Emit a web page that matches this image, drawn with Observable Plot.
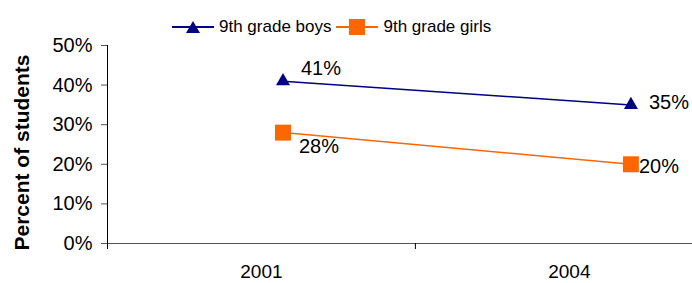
<!DOCTYPE html>
<html>
<head>
<meta charset="utf-8">
<script src="https://cdn.jsdelivr.net/npm/d3@7"></script>
<script src="https://cdn.jsdelivr.net/npm/@observablehq/plot@0.6"></script>
<style>
  html, body { margin: 0; padding: 0; background: #fff; }
  #wrap { position: relative; width: 692px; height: 283px; font-family: "Liberation Sans", Arial, sans-serif; }
  #legend { position: absolute; left: 172px; top: 17px; display: flex; align-items: center; font-size: 17px; color: #000; }
  #legend .item { display: flex; align-items: center; margin-right: 5px; }
  #legend svg { display: block; }
  #legend span { margin-left: 5px; }
</style>
</head>
<body>
<div id="wrap"><div id="legend"></div></div>
<script>
// ---- data ----
const categories = ["2001", "2004"];
const seriesNames = ["9th grade boys", "9th grade girls"];
const boys = [0.41, 0.35];
const girls = [0.28, 0.20];
// position of each year's data point along the category axis (category index units)
const pointX = [0.57, 1.70];
const yTicks = [0, 0.1, 0.2, 0.3, 0.4, 0.5];

// ---- styles ----
const colors = ["#000080", "#FF6600"];
const symbols = ["triangle", "square"];
const font = "Liberation Sans, Arial, sans-serif";

const rows = [];
[boys, girls].forEach((vals, s) => {
  vals.forEach((v, i) => rows.push({series: seriesNames[s], s, i, x: pointX[i], y: v, year: categories[i]}));
});
const catLabels = categories.map((c, i) => ({c, x: i + 0.5}));

// label offsets per (series, index)
const labelOffsets = [[[18, -13], [18, -2]], [[16, 14], [8, 2]]];

const marks = [
  Plot.ruleY([0], {stroke: "#555", strokeWidth: 1}),
  Plot.ruleX([0], {y1: 0, y2: 0.5, stroke: "#000", strokeWidth: 1}),
  Plot.axisY({ticks: yTicks, tickFormat: d3.format(".0%"), tickSize: 6, tickPadding: 9, fontSize: 20, label: null, stroke: "#555"}),
  Plot.axisX({ticks: [0, 1], tickFormat: () => "", tickSize: 6, label: null, stroke: "#000"}),
  Plot.text(catLabels, {x: "x", y: () => 0, text: "c", dy: 28, fontSize: 19, fill: "#000"}),
  Plot.text(["Percent of students"], {frameAnchor: "left", textAnchor: "middle", rotate: -90, dx: -85, dy: 8, fontSize: 21, fontWeight: "bold", fill: "#000"})
];

seriesNames.forEach((name, s) => {
  const d = rows.filter(r => r.s === s);
  marks.push(Plot.line(d, {x: "x", y: "y", stroke: colors[s], strokeWidth: 1.5}));
  marks.push(Plot.dot(d, {x: "x", y: "y", symbol: () => symbols[s], r: s === 0 ? 5.2 : 9, fill: colors[s], stroke: "none"}));
  d.forEach((r, i) => {
    const [dx, dy] = labelOffsets[s][i];
    marks.push(Plot.text([r], {x: "x", y: "y", text: r2 => d3.format(".0%")(r2.y), dx, dy, textAnchor: "start", fontSize: 20, fill: "#000"}));
  });
});

const chart = Plot.plot({
  width: 692,
  height: 283,
  marginLeft: 107,
  marginRight: 0,
  marginTop: 45,
  marginBottom: 40,
  style: {fontFamily: font, fontSize: "16px", background: "#fff", color: "#000"},
  x: {type: "linear", domain: [0, 1.9], axis: null},
  y: {domain: [0, 0.5], axis: null},
  symbol: {type: "identity"},
  marks
});
document.getElementById("wrap").appendChild(chart);

// ---- legend ----
const legend = document.getElementById("legend");
seriesNames.forEach((name, s) => {
  const item = document.createElement("div");
  item.className = "item";
  const sym = s === 0
    ? `<path d="M21,3 L28,15 L14,15 Z" fill="${colors[s]}"/>`
    : `<rect x="13" y="1" width="16" height="16" fill="${colors[s]}"/>`;
  item.innerHTML = `<svg width="42" height="18"><line x1="0" x2="42" y1="9" y2="9" stroke="${colors[s]}" stroke-width="2"/>${sym}</svg><span>${name}</span>`;
  legend.appendChild(item);
});
</script>
</body>
</html>
